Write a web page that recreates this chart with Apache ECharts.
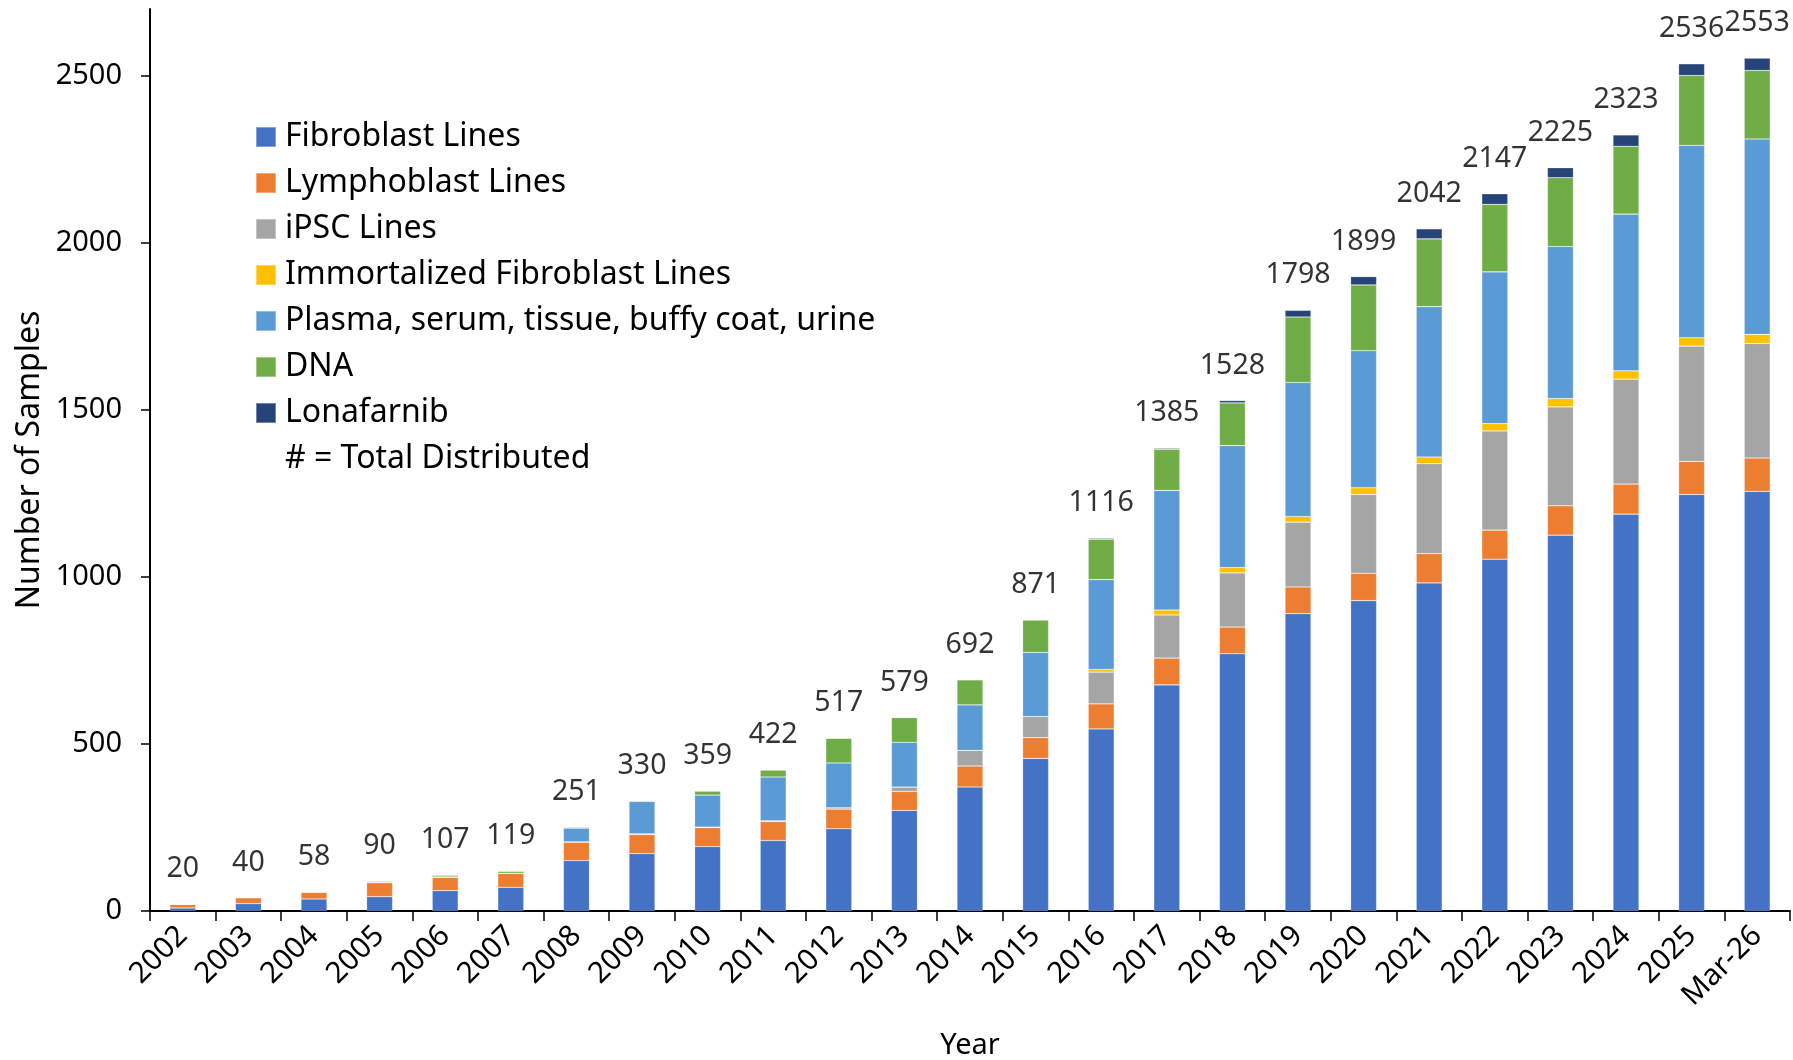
<!DOCTYPE html>
<html>
<head>
<meta charset="utf-8">
<script src="https://cdn.jsdelivr.net/npm/echarts@6/dist/echarts.min.js"></script>
<style>
  html, body { margin: 0; padding: 0; background: #fff; }
  #chart { width: 1793px; height: 1060px; }
</style>
</head>
<body>
<div id="chart"></div>
<script>
const categories = ['2002','2003','2004','2005','2006','2007','2008','2009','2010','2011','2012','2013','2014','2015','2016','2017','2018','2019','2020','2021','2022','2023','2024','2025','Mar-26'];
const fibroblast   = [9, 22, 36, 43, 61, 71, 151, 172, 193, 211, 246, 301, 371, 457, 545, 677, 770, 890, 929, 982, 1053, 1125, 1188, 1247, 1256];
const lymphoblast  = [11, 18, 20, 42, 40, 42, 55, 57, 57, 57, 59, 57, 63, 62, 75, 80, 80, 80, 82, 88, 87, 88, 90, 99, 100];
const ipsc         = [0, 0, 0, 0, 0, 0, 1, 2, 1, 2, 4, 13, 47, 63, 95, 129, 162, 194, 236, 269, 297, 296, 314, 345, 343];
const immortalized = [0, 0, 0, 0, 0, 0, 0, 0, 0, 0, 0, 0, 0, 0, 8, 15, 16, 17, 20, 20, 22, 25, 25, 25, 27];
const plasma       = [0, 0, 2, 2, 1, 0, 41, 97, 96, 131, 134, 134, 136, 192, 269, 358, 365, 401, 410, 450, 454, 455, 469, 576, 585];
const dna          = [0, 0, 0, 3, 5, 6, 3, 2, 12, 21, 74, 74, 75, 97, 121, 123, 128, 196, 197, 203, 202, 206, 203, 209, 205];
const lonafarnib   = [0, 0, 0, 0, 0, 0, 0, 0, 0, 0, 0, 0, 0, 0, 3, 3, 7, 20, 25, 30, 32, 30, 34, 35, 37];
const totals       = [20, 40, 58, 90, 107, 119, 251, 330, 359, 422, 517, 579, 692, 871, 1116, 1385, 1528, 1798, 1899, 2042, 2147, 2225, 2323, 2536, 2553];
const yTicks = [0, 500, 1000, 1500, 2000, 2500];

const FONT = '"Noto Sans", "Open Sans", sans-serif';
const seriesDefs = [
  ['Fibroblast Lines', fibroblast, '#4472C4'],
  ['Lymphoblast Lines', lymphoblast, '#ED7D31'],
  ['iPSC Lines', ipsc, '#A5A5A5'],
  ['Immortalized Fibroblast Lines', immortalized, '#FFC000'],
  ['Plasma, serum, tissue, buffy coat, urine', plasma, '#5B9BD5'],
  ['DNA', dna, '#70AD47'],
  ['Lonafarnib', lonafarnib, '#264478']
];
const totalName = '# = Total Distributed';

const series = seriesDefs.map(([name, data, color]) => ({
  name, type: 'bar', stack: 'total', data,
  barWidth: 26,
  itemStyle: { color, borderColor: 'rgba(255,255,255,0.35)', borderWidth: 0.6 }
}));
series.push({
  name: totalName, type: 'scatter', data: totals,
  symbolSize: 0,
  itemStyle: { color: 'rgba(0,0,0,0)' },
  label: {
    show: true, position: 'top', distance: 21,
    formatter: '{c}', color: '#000', fontFamily: FONT, fontSize: 28.5, lineHeight: 28
  },
  z: 10
});

const legendData = seriesDefs.map(([name]) => ({ name, icon: 'rect' }));
legendData.push({ name: totalName, icon: 'rect', itemStyle: { color: 'rgba(0,0,0,0)', opacity: 0 } });

const chart = echarts.init(document.getElementById('chart'), null, { renderer: 'canvas' });
chart.setOption({
  animation: false,
  backgroundColor: '#fff',
  grid: { left: 150, right: 3, top: 9, bottom: 149, containLabel: false, outerBoundsMode: 'none' },
  legend: {
    orient: 'vertical', left: 250, top: 116,
    itemWidth: 20, itemHeight: 20, itemGap: 14,
    selectedMode: false,
    data: legendData,
    textStyle: { fontFamily: FONT, fontSize: 32, lineHeight: 32, color: '#000', padding: [0, 0, 0, 4] }
  },
  xAxis: {
    type: 'category', data: categories,
    name: 'Year', nameLocation: 'middle', nameGap: 120, nameMoveOverlap: false,
    nameTextStyle: { fontFamily: FONT, fontSize: 29, color: '#000' },
    axisLine: { lineStyle: { color: '#000', width: 2 } },
    axisTick: { show: true, length: 10, lineStyle: { color: '#000', width: 1.5 } },
    axisLabel: { interval: 0, rotate: 45, margin: 20, fontFamily: FONT, fontSize: 29.5, color: '#000' }
  },
  yAxis: {
    type: 'value', min: 0, max: 2700,
    name: 'Number of Samples', nameLocation: 'middle', nameGap: 104, nameRotate: 90, nameMoveOverlap: false,
    nameTextStyle: { fontFamily: FONT, fontSize: 32, color: '#000' },
    axisLine: { show: true, lineStyle: { color: '#000', width: 2 } },
    axisTick: { show: true, length: 9, customValues: yTicks, lineStyle: { color: '#000', width: 1.5 } },
    axisLabel: { customValues: yTicks, margin: 28, fontFamily: FONT, fontSize: 29, color: '#000', formatter: (v) => String(v) },
    splitLine: { show: false }
  },
  series
});
</script>
</body>
</html>
